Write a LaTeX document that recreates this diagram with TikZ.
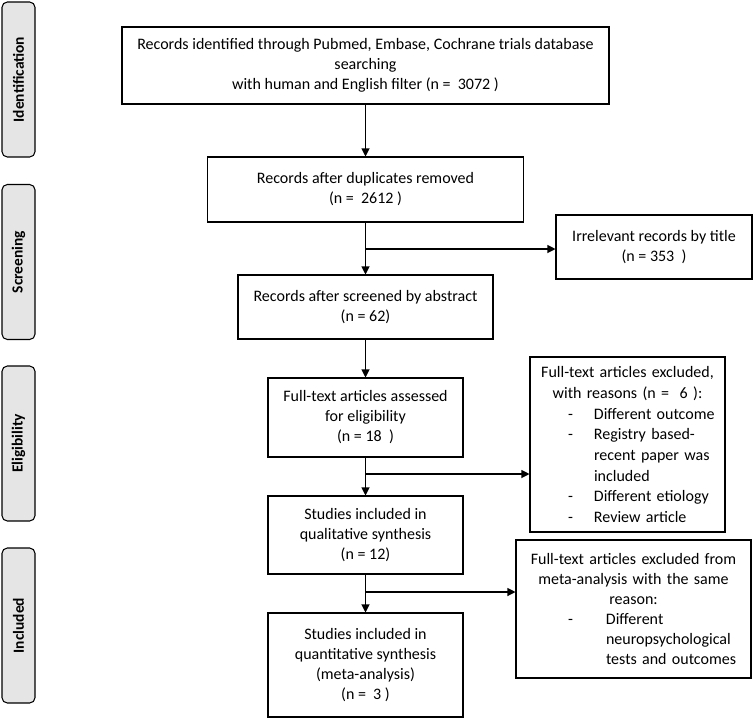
\documentclass[tikz,border=0pt]{standalone}
\usepackage{fontspec}
\setmainfont{Carlito}
\usetikzlibrary{arrows.meta,positioning}
\newcommand{\listdash}[2]{\hspace*{#1}\makebox[#2][l]{-}}

\begin{document}
\begin{tikzpicture}[x=0.75pt, y=-0.75pt,
	box/.style={draw, line width=0.8pt, align=center, inner sep=3pt, font=\fontsize{12}{15}\selectfont},
	phase/.style={draw, line width=0.8pt, rounded corners=4pt, fill=gray!20, rotate=90, minimum width=116.25pt, minimum height=24.75pt, font=\bfseries\fontsize{11.6}{13}\selectfont},
	arr/.style={line width=0.8pt, -{Triangle[length=6pt,width=6pt]}}]
	\useasboundingbox (0,0) rectangle (754,719);

	\node[phase] (ident) at (18.5,79.5) {Identification};
	\node[phase] (screen) at (18.5,262) {Screening};
	\node[phase] (elig) at (18.5,443.5) {Eligibility};
	\node[phase] (incl) at (18.5,625.5) {Included};

	\node[box, minimum width=365.25pt, minimum height=57.75pt] (records) at (365.5,65.5) {Records identified through Pubmed, Embase, Cochrane trials database\\ searching\\ with human and English filter (n = ~3072 )};
	\node[box, minimum width=237pt, minimum height=48.75pt] (dup) at (365.5,189.5) {Records after duplicates removed\\ (n = ~2612 )};
	\node[box, minimum width=147pt, minimum height=48pt] (irr) at (654,247) {Irrelevant records by title\\ (n = 353~ )};
	\node[box, minimum width=191.25pt, minimum height=48pt] (abs) at (365.5,307) {Records after screened by abstract\\ (n = 62)};
	\node[box, minimum width=146.25pt, minimum height=59.25pt] (full) at (365.5,417.5) {Full-text articles assessed\\ for eligibility\\ (n = 18~ )};
	\node[box, align=left, text width=140.25pt, minimum height=131.25pt, font=\fontsize{12}{15.5}\selectfont] (excl) at (627.5,444.5) {\makebox[\hsize]{Full-text articles excluded,}\\ \makebox[\hsize]{with reasons (n = ~6 ):}\\ \listdash{25.5pt}{19.5pt}Different outcome\\ \listdash{25.5pt}{19.5pt}Registry based-\\ \hspace*{45pt}recent paper was\\ \hspace*{45pt}included\\ \listdash{25.5pt}{19.5pt}Different etiology\\ \listdash{25.5pt}{19.5pt}Review article};
	\node[box, minimum width=146.25pt, minimum height=58.5pt] (qual) at (365.5,535) {Studies included in\\ qualitative synthesis\\ (n = 12)};
	\node[box, align=left, text width=170.25pt, minimum height=103.5pt] (meta) at (633.5,609) {\makebox[\hsize]{Full-text articles excluded from}\\ \makebox[\hsize]{meta-analysis with the same}\\ \makebox[\hsize]{reason:}\\ \listdash{36pt}{28.5pt}Different\\ \hspace*{64.5pt}neuropsychological\\ \hspace*{64.5pt}tests and outcomes};
	\node[box, minimum width=146.25pt, minimum height=78pt] (quant) at (365.5,665) {Studies included in\\ quantitative synthesis\\ (meta-analysis)\\ (n = ~3 )};

	\draw[arr] (records) -- (dup);
	\draw[arr] (dup) -- (abs);
	\coordinate (cut1) at (365.5,249);
	\draw[arr] (cut1) -- (cut1 -| irr.west);
	\draw[arr] (abs) -- (full);
	\draw[arr] (full) -- (qual);
	\coordinate (cut2) at (365.5,474);
	\draw[arr] (cut2) -- (cut2 -| excl.west);
	\draw[arr] (qual) -- (quant);
	\coordinate (cut3) at (365.5,592);
	\draw[arr] (cut3) -- (cut3 -| meta.west);
\end{tikzpicture}
\end{document}
